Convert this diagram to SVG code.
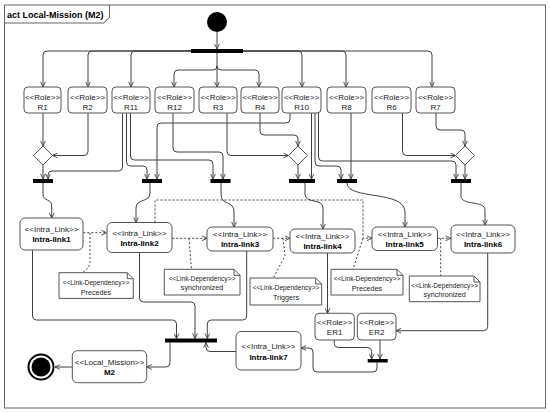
<svg xmlns="http://www.w3.org/2000/svg" width="550" height="413" viewBox="0 0 550 413">
<defs>
<style>
.c{fill:none;stroke:#404040;stroke-width:1;marker-end:url(#a)}
.d{fill:none;stroke:#404040;stroke-width:1;stroke-dasharray:2,2;marker-end:url(#a)}
.dl{fill:none;stroke:#404040;stroke-width:1;stroke-dasharray:2,2}
.box{fill:#fff;stroke:#555;stroke-width:1}
.note{fill:#fff;stroke:#555;stroke-width:1}
.bar{fill:#000}
.dia{fill:#fff;stroke:#555;stroke-width:1}
.t{font-family:"Liberation Sans",Arial,sans-serif;font-size:8px;fill:#222;text-anchor:middle}
.b{font-weight:bold;fill:#000}
.n{font-size:6.6px}
.nt{font-size:7.2px}
</style>
<marker id="a" viewBox="0 0 10 10" refX="9.5" refY="5" markerWidth="6" markerHeight="6" orient="auto" markerUnits="userSpaceOnUse">
<path d="M1,1 L9.5,5 L1,9" fill="none" stroke="#404040" stroke-width="1.5" stroke-dasharray="none"/>
</marker>
</defs>
<rect width="550" height="413" fill="#fff"/>
<g id="frame">
<rect x="4.5" y="5" width="541" height="403" fill="none" stroke="#666" stroke-width="1"/>
<path d="M4.5,23 H104 L109.5,17 V5" fill="none" stroke="#666" stroke-width="1"/>
<text x="7" y="17.5" style="font-family:'Liberation Sans',Arial,sans-serif;font-size:9px;font-weight:bold;fill:#000">act Local-Mission (M2)</text>
</g>
<g id="connectors">
<path class="c" d="M217,32 V49"/>
<path class="c" d="M217,51 H47 Q43,51 43,55 V87"/>
<path class="c" d="M217,51 H92 Q88,51 88,55 V87"/>
<path class="c" d="M217,51 H135 Q131,51 131,55 V87"/>
<path class="c" d="M217,51 H298 Q302,51 302,55 V87"/>
<path class="c" d="M217,51 H342 Q346,51 346,55 V87"/>
<path class="c" d="M217,51 H428 Q432,51 432,55 V87"/>
<path class="c" d="M217,53 V87"/>
<path class="c" d="M217,66 Q217,70 213,70 H178 Q174,70 174,74 V87"/>
<path class="c" d="M217,66 Q217,70 221,70 H255 Q259,70 259,74 V87"/>
<path class="c" d="M43,113 V146"/>
<path class="c" d="M88,113 V151.5 Q88,155.5 84,155.5 H52.5"/>
<path class="c" d="M43,165 V179"/>
<path class="c" d="M122.5,113 V167 Q122.5,171 118.5,171 H52 Q48,171 48,175 V179"/>
<path class="c" d="M126.5,113 V162 Q126.5,166 130.5,166 H143 Q147,166 147,170 V179"/>
<path class="c" d="M130.5,113 V156 Q130.5,160 134.5,160 H209 Q213,160 213,164 V179"/>
<path class="c" d="M290,113 V119 Q290,123 286,123 H161 Q157,123 157,127 V179"/>
<path class="c" d="M173,113 V148 Q173,152 177,152 H219 Q223,152 223,156 V179"/>
<path class="c" d="M227,113 V151.5 Q227,155.5 231,155.5 H288.5"/>
<path class="c" d="M260,113 V131 Q260,135 264,135 H294 Q298,135 298,139 V146"/>
<path class="c" d="M298,165 V179"/>
<path class="c" d="M311.5,113 V179"/>
<path class="c" d="M315,113 V162 Q315,166 319,166 H337 Q341,166 341,170 V179"/>
<path class="c" d="M318.5,113 V157 Q318.5,161 322.5,161 H452 Q456,161 456,165 V179"/>
<path class="c" d="M351,113 V179"/>
<path class="c" d="M402.5,113 V151.5 Q402.5,155.5 406.5,155.5 H455.5"/>
<path class="c" d="M436,113 V126 Q436,130 440,130 H461 Q465,130 465,134 V146"/>
<path class="c" d="M465,165 V179"/>
<path class="c" d="M43,183 V194 C43,202 51.7,198 51.7,206 V218"/>
<path class="c" d="M150,183 V193 C150,203 136,198 136,208 V222.5"/>
<path class="c" d="M221,183 V194 C221,206 234,200 234,212 V227"/>
<path class="c" d="M305,183 V194 C305,204 323,198 323,208 V229"/>
<path class="c" d="M347,183 C347,200 405,190 405,212 V227"/>
<path class="c" d="M461,183 V196 C461,206 485,200 485,210 V225"/>
<path class="c" d="M32.5,250 V316 Q32.5,320 36.5,320 H172.5 Q176.5,320 176.5,324 V338.5"/>
<path class="c" d="M139.5,252.5 V298 Q139.5,302 143.5,302 H191 Q195,302 195,306 V338.5"/>
<path class="c" d="M246.7,251 V316 Q246.7,320 242.7,320 H211.3 Q207.3,320 207.3,324 V338.5"/>
<path class="c" d="M236,351.5 H210 Q206,351.5 206,347.5 V342.5"/>
<path class="c" d="M170,342.5 V363 Q170,367 166,367 H146.7"/>
<path class="c" d="M72.3,367 H55"/>
<path class="c" d="M327.5,253 V313.3"/>
<path class="c" d="M487.7,253 V326.7 Q487.7,330.7 483.7,330.7 H396"/>
<path class="c" d="M334.3,340 V343.5 Q334.3,347.5 338.3,347.5 H367.7 Q371.7,347.5 371.7,351.5 V359"/>
<path class="c" d="M380,340 V359"/>
<path class="c" d="M377,362.5 V368 Q377,372 373,372 H317 Q313,372 313,368 V352 Q313,348 309,348 H301"/>
<path class="d" d="M83.3,232.7 H106.5"/>
<path class="dl" d="M90,233 V262 Q90,268 82,272.7"/>
<path class="d" d="M172.3,238.3 H207"/>
<path class="dl" d="M189,238.3 L191.5,269.3"/>
<path class="d" d="M273.3,238.3 H290"/>
<path class="dl" d="M283,238.3 L285,256 L273.3,278"/>
<path class="d" d="M155,222.5 V200 H363 V238.3 H372"/>
<path class="dl" d="M363,238.3 L353,269.3"/>
<path class="d" d="M437.7,238.3 H450.7"/>
<path class="dl" d="M440.7,238.3 V276"/>
</g>
<g id="initial"><circle cx="217" cy="22" r="10" fill="#000"/></g>
<g id="fork0"><rect class="bar" x="191" y="49" width="52" height="4"/></g>
<g id="R1"><rect class="box" x="24" y="87" width="37" height="26" rx="4"/><text class="t" x="42.5" y="99.5">&lt;&lt;Role&gt;&gt;</text><text class="t" x="42.5" y="109.5">R1</text></g>
<g id="R2"><rect class="box" x="68" y="87" width="39" height="26" rx="4"/><text class="t" x="87.5" y="99.5">&lt;&lt;Role&gt;&gt;</text><text class="t" x="87.5" y="109.5">R2</text></g>
<g id="R11"><rect class="box" x="112" y="87" width="38" height="26" rx="4"/><text class="t" x="131" y="99.5">&lt;&lt;Role&gt;&gt;</text><text class="t" x="131" y="109.5">R11</text></g>
<g id="R12"><rect class="box" x="155" y="87" width="39" height="26" rx="4"/><text class="t" x="174.5" y="99.5">&lt;&lt;Role&gt;&gt;</text><text class="t" x="174.5" y="109.5">R12</text></g>
<g id="R3"><rect class="box" x="199" y="87" width="38" height="26" rx="4"/><text class="t" x="218" y="99.5">&lt;&lt;Role&gt;&gt;</text><text class="t" x="218" y="109.5">R3</text></g>
<g id="R4"><rect class="box" x="241" y="87" width="38" height="26" rx="4"/><text class="t" x="260" y="99.5">&lt;&lt;Role&gt;&gt;</text><text class="t" x="260" y="109.5">R4</text></g>
<g id="R10"><rect class="box" x="282" y="87" width="39" height="26" rx="4"/><text class="t" x="301.5" y="99.5">&lt;&lt;Role&gt;&gt;</text><text class="t" x="301.5" y="109.5">R10</text></g>
<g id="R8"><rect class="box" x="327" y="87" width="39" height="26" rx="4"/><text class="t" x="346.5" y="99.5">&lt;&lt;Role&gt;&gt;</text><text class="t" x="346.5" y="109.5">R8</text></g>
<g id="R6"><rect class="box" x="372" y="87" width="39" height="26" rx="4"/><text class="t" x="391.5" y="99.5">&lt;&lt;Role&gt;&gt;</text><text class="t" x="391.5" y="109.5">R6</text></g>
<g id="R7"><rect class="box" x="416" y="87" width="39" height="26" rx="4"/><text class="t" x="435.5" y="99.5">&lt;&lt;Role&gt;&gt;</text><text class="t" x="435.5" y="109.5">R7</text></g>
<g id="dec1"><path class="dia" d="M43,146 L52.5,155.5 L43,165 L33.5,155.5 Z"/></g>
<g id="dec3"><path class="dia" d="M298,146 L307.5,155.5 L298,165 L288.5,155.5 Z"/></g>
<g id="dec4"><path class="dia" d="M465,146 L474.5,155.5 L465,165 L455.5,155.5 Z"/></g>
<g id="fork1"><rect class="bar" x="33" y="179" width="20" height="4"/></g>
<g id="fork2"><rect class="bar" x="142" y="179" width="20" height="4"/></g>
<g id="fork3"><rect class="bar" x="210.5" y="179" width="20" height="4"/></g>
<g id="fork4"><rect class="bar" x="289" y="179" width="26" height="4"/></g>
<g id="fork5"><rect class="bar" x="337" y="179" width="20" height="4"/></g>
<g id="fork6"><rect class="bar" x="451" y="179" width="20" height="4"/></g>
<g id="IL1"><rect class="box" x="20" y="218" width="63" height="32" rx="5"/><text class="t" x="51.5" y="232">&lt;&lt;Intra_Link&gt;&gt;</text><text class="t b" x="51.5" y="242">Intra-link1</text></g>
<g id="IL2"><rect class="box" x="107" y="222.5" width="65" height="30" rx="5"/><text class="t" x="139.5" y="236">&lt;&lt;Intra_Link&gt;&gt;</text><text class="t b" x="139.5" y="246">Intra-link2</text></g>
<g id="IL3"><rect class="box" x="207" y="227" width="66" height="24" rx="5"/><text class="t" x="240" y="237">&lt;&lt;Intra_Link&gt;&gt;</text><text class="t b" x="240" y="246.5">Intra-link3</text></g>
<g id="IL4"><rect class="box" x="290" y="229" width="65" height="24" rx="5"/><text class="t" x="322.5" y="239">&lt;&lt;Intra_Link&gt;&gt;</text><text class="t b" x="322.5" y="249">Intra-link4</text></g>
<g id="IL5"><rect class="box" x="372" y="227" width="65.5" height="23.5" rx="5"/><text class="t" x="404.7" y="237">&lt;&lt;Intra_Link&gt;&gt;</text><text class="t b" x="404.7" y="246.5">Intra-link5</text></g>
<g id="IL6"><rect class="box" x="451" y="225" width="64" height="28" rx="5"/><text class="t" x="483" y="237">&lt;&lt;Intra_Link&gt;&gt;</text><text class="t b" x="483" y="247">Intra-link6</text></g>
<g id="IL7"><rect class="box" x="236" y="331.5" width="65" height="38.5" rx="5"/><text class="t" x="268.5" y="349">&lt;&lt;Intra_Link&gt;&gt;</text><text class="t b" x="268.5" y="359.5">Intra-link7</text></g>
<g id="N1"><path class="note" d="M59,272.7 H127.3 L133.3,278.7 V298.4 H59 Z M127.3,272.7 V278.7 H133.3"/><text class="t n" x="96" y="284.5">&lt;&lt;Link-Dependency&gt;&gt;</text><text class="t nt" x="96" y="294.5">Precedes</text></g>
<g id="N2"><path class="note" d="M164.3,269.3 H234 L240,275.3 V295 H164.3 Z M234,269.3 V275.3 H240"/><text class="t n" x="202" y="280.7">&lt;&lt;Link-Dependency&gt;&gt;</text><text class="t nt" x="202" y="290">synchronized</text></g>
<g id="N3"><path class="note" d="M250,278 H315.7 L321.7,284 V305 H250 Z M315.7,278 V284 H321.7"/><text class="t n" x="286" y="289.5">&lt;&lt;Link-Dependency&gt;&gt;</text><text class="t nt" x="286" y="300">Triggers</text></g>
<g id="N4"><path class="note" d="M331,269.3 H397 L403,275.3 V295 H331 Z M397,269.3 V275.3 H403"/><text class="t n" x="367" y="280.7">&lt;&lt;Link-Dependency&gt;&gt;</text><text class="t nt" x="367" y="290.5">Precedes</text></g>
<g id="N5"><path class="note" d="M409.3,276 H474 L480,282 V301.7 H409.3 Z M474,276 V282 H480"/><text class="t n" x="444.7" y="287.5">&lt;&lt;Link-Dependency&gt;&gt;</text><text class="t nt" x="444.7" y="297">synchronized</text></g>
<g id="ER1"><rect class="box" x="315" y="313.3" width="39.3" height="26.7" rx="4"/><text class="t" x="334.6" y="324.5">&lt;&lt;Role&gt;&gt;</text><text class="t" x="334.6" y="334.5">ER1</text></g>
<g id="ER2"><rect class="box" x="357.3" y="313.3" width="38.7" height="26.7" rx="4"/><text class="t" x="376.6" y="324.5">&lt;&lt;Role&gt;&gt;</text><text class="t" x="376.6" y="334.5">ER2</text></g>
<g id="fork7"><rect class="bar" x="367.7" y="359" width="20" height="3.5"/></g>
<g id="join"><rect class="bar" x="165" y="338.5" width="52" height="4"/></g>
<g id="M2"><rect class="box" x="72.3" y="350.7" width="74.4" height="32" rx="5"/><text class="t" x="109.5" y="365">&lt;&lt;Local_Mission&gt;&gt;</text><text class="t b" x="109.5" y="375">M2</text></g>
<g id="final"><circle cx="41" cy="367" r="12.5" fill="#fff" stroke="#000" stroke-width="2"/><circle cx="41" cy="367" r="9.5" fill="#000"/></g>
</svg>
